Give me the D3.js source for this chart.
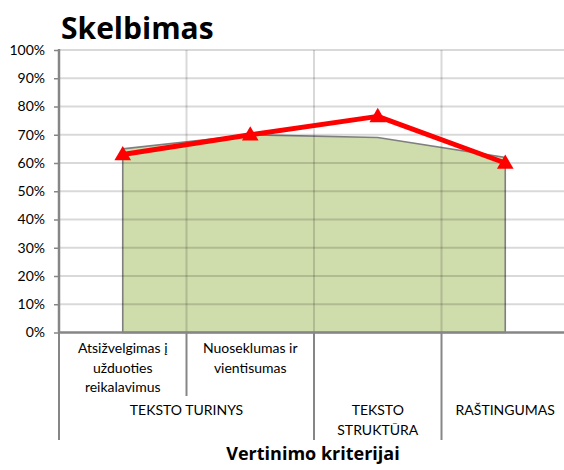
<!DOCTYPE html>
<meta charset="utf-8">
<style>
    body { margin: 0; background: #fff; }
    svg { display: block; font-family: "Lato", "Open Sans", sans-serif; }
    .lbl { font-size: 14px; fill: #000; }
    .ttl { font-family: "Open Sans", sans-serif; font-weight: bold; fill: #000; }
</style>
<body>
<script src="https://d3js.org/d3.v7.min.js"></script>
<script>
    // chart data
    var categories = ["c1", "c2", "c3", "c4"];
    var categoryLabels = [["Atsižvelgimas į", "užduoties", "reikalavimus"], ["Nuoseklumas ir", "vientisumas"], [], []];
    var groupLabels = [["TEKSTO TURINYS"], ["TEKSTO", "STRUKTŪRA"], ["RAŠTINGUMAS"]];
    var groupSpans = [2, 1, 1];
    var areaValues = [65, 70, 69, 62];
    var lineValues = [63, 70, 76.5, 60];
    var yTicks = [0, 10, 20, 30, 40, 50, 60, 70, 80, 90, 100];

    var W = 564, H = 470;
    var pLeft = 59, pRight = 569, pTop = 50, pBottom = 332.5;

    var svg = d3.select("body").append("svg")
        .attr("width", W)
        .attr("height", H);

    var x = d3.scaleBand().domain(categories).range([pLeft, pRight]);
    var y = d3.scaleLinear().domain([0, 100]).range([pBottom, pTop]);
    var cx = function (d, i) { return x(categories[i]) + x.bandwidth() / 2; };

    // area series
    var area = d3.area()
        .x(cx)
        .y0(y(0))
        .y1(function (d) { return y(d); });
    svg.append("path")
        .datum(areaValues)
        .attr("d", area)
        .attr("fill", "#cfdcab")
        .attr("stroke", "#7f7f7f")
        .attr("stroke-width", 1.6);

    // gridlines (on top, translucent)
    svg.append("g").selectAll("line")
        .data(yTicks.slice(1))
        .enter().append("line")
        .attr("x1", pLeft).attr("x2", pRight)
        .attr("y1", function (d) { return y(d); })
        .attr("y2", function (d) { return y(d); })
        .attr("stroke", "rgba(0,0,0,0.15)")
        .attr("stroke-width", 2);
    svg.append("g").selectAll("line")
        .data(categories.slice(1))
        .enter().append("line")
        .attr("x1", function (d) { return x(d); })
        .attr("x2", function (d) { return x(d); })
        .attr("y1", pTop).attr("y2", pBottom)
        .attr("stroke", "rgba(0,0,0,0.15)")
        .attr("stroke-width", 2);

    // y axis
    var yAxis = d3.axisLeft(y).tickValues(yTicks).tickSize(5).tickPadding(9)
        .tickFormat(function (d) { return d + "%"; });
    var yg = svg.append("g").attr("transform", "translate(" + pLeft + ",0)").call(yAxis);
    yg.select(".domain").remove();
    yg.attr("font-family", null).attr("font-size", null);
    yg.selectAll(".tick line").attr("stroke", "#868686").attr("stroke-width", 1.5);
    yg.selectAll("text").attr("class", "lbl");
    svg.append("line")
        .attr("x1", pLeft).attr("x2", pLeft).attr("y1", pTop - 1).attr("y2", pBottom)
        .attr("stroke", "#868686").attr("stroke-width", 2.5);

    // x axis line
    svg.append("line")
        .attr("x1", pLeft - 1).attr("x2", pRight).attr("y1", pBottom).attr("y2", pBottom)
        .attr("stroke", "#868686").attr("stroke-width", 2.5);

    // multi-level category separators
    var sepShort = [1], sepLong = [0, 2, 3];
    svg.append("g").selectAll("line")
        .data(sepShort)
        .enter().append("line")
        .attr("x1", function (i) { return x(categories[i]); })
        .attr("x2", function (i) { return x(categories[i]); })
        .attr("y1", pBottom).attr("y2", 396)
        .attr("stroke", "#868686").attr("stroke-width", 2);
    svg.append("g").selectAll("line")
        .data(sepLong)
        .enter().append("line")
        .attr("x1", function (i) { return x(categories[i]); })
        .attr("x2", function (i) { return x(categories[i]); })
        .attr("y1", pBottom).attr("y2", 440)
        .attr("stroke", "#868686").attr("stroke-width", 2);

    // level 1 labels
    categoryLabels.forEach(function (lines, i) {
        lines.forEach(function (t, j) {
            svg.append("text").attr("class", "lbl")
                .attr("x", cx(null, i)).attr("y", 353 + j * 19.5)
                .attr("text-anchor", "middle").text(t);
        });
    });

    // level 2 labels
    var start = 0;
    groupLabels.forEach(function (lines, g) {
        var x0 = x(categories[start]);
        var x1 = x(categories[start + groupSpans[g] - 1]) + x.bandwidth();
        lines.forEach(function (t, j) {
            svg.append("text").attr("class", "lbl")
                .attr("x", (x0 + x1) / 2).attr("y", 415 + j * 19.5)
                .attr("text-anchor", "middle").text(t);
        });
        start += groupSpans[g];
    });

    // line series with triangle markers
    var line = d3.line().x(cx).y(function (d) { return y(d); });
    svg.append("path")
        .datum(lineValues)
        .attr("d", line)
        .attr("fill", "none")
        .attr("stroke", "#ff0000")
        .attr("stroke-width", 5)
        .attr("stroke-linejoin", "round");
    svg.append("g").selectAll("path")
        .data(lineValues)
        .enter().append("path")
        .attr("d", d3.symbol().type(d3.symbolTriangle).size(120))
        .attr("transform", function (d, i) { return "translate(" + cx(d, i) + "," + (y(d) + 1) + ")"; })
        .attr("fill", "#ff0000");

    // titles
    svg.append("text").attr("class", "ttl")
        .attr("x", 61).attr("y", 39)
        .attr("font-size", "30px")
        .text("Skelbimas");
    svg.append("text").attr("class", "ttl")
        .attr("x", 313).attr("y", 460)
        .attr("text-anchor", "middle")
        .attr("font-size", "18px")
        .text("Vertinimo kriterijai");
</script>
</body>
